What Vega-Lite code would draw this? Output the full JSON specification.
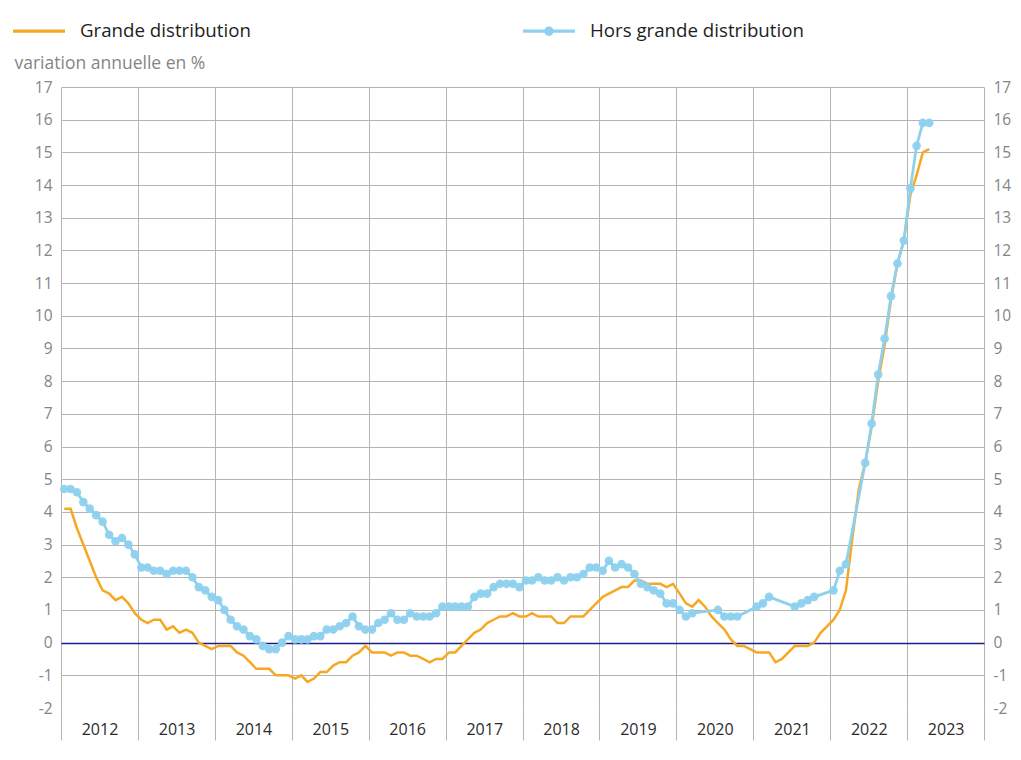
{
  "$schema": "https://vega.github.io/schema/vega-lite/v6.json",
  "width": 923,
  "height": 621,
  "autosize": "none",
  "padding": {"left": 61, "top": 87, "right": 37, "bottom": 52},
  "config": {
    "font": "Open Sans",
    "view": {"stroke": null},
    "axis": {"gridColor": "#b4b4b4", "gridWidth": 1, "tickColor": "#b4b4b4"}
  },
  "data": {
    "values": [
      {"mois": "2012-01-01", "grande": 4.1, "hors": 4.7},
      {"mois": "2012-02-01", "grande": 4.1, "hors": 4.7},
      {"mois": "2012-03-01", "grande": 3.5, "hors": 4.6},
      {"mois": "2012-04-01", "grande": 3.0, "hors": 4.3},
      {"mois": "2012-05-01", "grande": 2.5, "hors": 4.1},
      {"mois": "2012-06-01", "grande": 2.0, "hors": 3.9},
      {"mois": "2012-07-01", "grande": 1.6, "hors": 3.7},
      {"mois": "2012-08-01", "grande": 1.5, "hors": 3.3},
      {"mois": "2012-09-01", "grande": 1.3, "hors": 3.1},
      {"mois": "2012-10-01", "grande": 1.4, "hors": 3.2},
      {"mois": "2012-11-01", "grande": 1.2, "hors": 3.0},
      {"mois": "2012-12-01", "grande": 0.9, "hors": 2.7},
      {"mois": "2013-01-01", "grande": 0.7, "hors": 2.3},
      {"mois": "2013-02-01", "grande": 0.6, "hors": 2.3},
      {"mois": "2013-03-01", "grande": 0.7, "hors": 2.2},
      {"mois": "2013-04-01", "grande": 0.7, "hors": 2.2},
      {"mois": "2013-05-01", "grande": 0.4, "hors": 2.1},
      {"mois": "2013-06-01", "grande": 0.5, "hors": 2.2},
      {"mois": "2013-07-01", "grande": 0.3, "hors": 2.2},
      {"mois": "2013-08-01", "grande": 0.4, "hors": 2.2},
      {"mois": "2013-09-01", "grande": 0.3, "hors": 2.0},
      {"mois": "2013-10-01", "grande": 0.0, "hors": 1.7},
      {"mois": "2013-11-01", "grande": -0.1, "hors": 1.6},
      {"mois": "2013-12-01", "grande": -0.2, "hors": 1.4},
      {"mois": "2014-01-01", "grande": -0.1, "hors": 1.3},
      {"mois": "2014-02-01", "grande": -0.1, "hors": 1.0},
      {"mois": "2014-03-01", "grande": -0.1, "hors": 0.7},
      {"mois": "2014-04-01", "grande": -0.3, "hors": 0.5},
      {"mois": "2014-05-01", "grande": -0.4, "hors": 0.4},
      {"mois": "2014-06-01", "grande": -0.6, "hors": 0.2},
      {"mois": "2014-07-01", "grande": -0.8, "hors": 0.1},
      {"mois": "2014-08-01", "grande": -0.8, "hors": -0.1},
      {"mois": "2014-09-01", "grande": -0.8, "hors": -0.2},
      {"mois": "2014-10-01", "grande": -1.0, "hors": -0.2},
      {"mois": "2014-11-01", "grande": -1.0, "hors": 0.0},
      {"mois": "2014-12-01", "grande": -1.0, "hors": 0.2},
      {"mois": "2015-01-01", "grande": -1.1, "hors": 0.1},
      {"mois": "2015-02-01", "grande": -1.0, "hors": 0.1},
      {"mois": "2015-03-01", "grande": -1.2, "hors": 0.1},
      {"mois": "2015-04-01", "grande": -1.1, "hors": 0.2},
      {"mois": "2015-05-01", "grande": -0.9, "hors": 0.2},
      {"mois": "2015-06-01", "grande": -0.9, "hors": 0.4},
      {"mois": "2015-07-01", "grande": -0.7, "hors": 0.4},
      {"mois": "2015-08-01", "grande": -0.6, "hors": 0.5},
      {"mois": "2015-09-01", "grande": -0.6, "hors": 0.6},
      {"mois": "2015-10-01", "grande": -0.4, "hors": 0.8},
      {"mois": "2015-11-01", "grande": -0.3, "hors": 0.5},
      {"mois": "2015-12-01", "grande": -0.1, "hors": 0.4},
      {"mois": "2016-01-01", "grande": -0.3, "hors": 0.4},
      {"mois": "2016-02-01", "grande": -0.3, "hors": 0.6},
      {"mois": "2016-03-01", "grande": -0.3, "hors": 0.7},
      {"mois": "2016-04-01", "grande": -0.4, "hors": 0.9},
      {"mois": "2016-05-01", "grande": -0.3, "hors": 0.7},
      {"mois": "2016-06-01", "grande": -0.3, "hors": 0.7},
      {"mois": "2016-07-01", "grande": -0.4, "hors": 0.9},
      {"mois": "2016-08-01", "grande": -0.4, "hors": 0.8},
      {"mois": "2016-09-01", "grande": -0.5, "hors": 0.8},
      {"mois": "2016-10-01", "grande": -0.6, "hors": 0.8},
      {"mois": "2016-11-01", "grande": -0.5, "hors": 0.9},
      {"mois": "2016-12-01", "grande": -0.5, "hors": 1.1},
      {"mois": "2017-01-01", "grande": -0.3, "hors": 1.1},
      {"mois": "2017-02-01", "grande": -0.3, "hors": 1.1},
      {"mois": "2017-03-01", "grande": -0.1, "hors": 1.1},
      {"mois": "2017-04-01", "grande": 0.1, "hors": 1.1},
      {"mois": "2017-05-01", "grande": 0.3, "hors": 1.4},
      {"mois": "2017-06-01", "grande": 0.4, "hors": 1.5},
      {"mois": "2017-07-01", "grande": 0.6, "hors": 1.5},
      {"mois": "2017-08-01", "grande": 0.7, "hors": 1.7},
      {"mois": "2017-09-01", "grande": 0.8, "hors": 1.8},
      {"mois": "2017-10-01", "grande": 0.8, "hors": 1.8},
      {"mois": "2017-11-01", "grande": 0.9, "hors": 1.8},
      {"mois": "2017-12-01", "grande": 0.8, "hors": 1.7},
      {"mois": "2018-01-01", "grande": 0.8, "hors": 1.9},
      {"mois": "2018-02-01", "grande": 0.9, "hors": 1.9},
      {"mois": "2018-03-01", "grande": 0.8, "hors": 2.0},
      {"mois": "2018-04-01", "grande": 0.8, "hors": 1.9},
      {"mois": "2018-05-01", "grande": 0.8, "hors": 1.9},
      {"mois": "2018-06-01", "grande": 0.6, "hors": 2.0},
      {"mois": "2018-07-01", "grande": 0.6, "hors": 1.9},
      {"mois": "2018-08-01", "grande": 0.8, "hors": 2.0},
      {"mois": "2018-09-01", "grande": 0.8, "hors": 2.0},
      {"mois": "2018-10-01", "grande": 0.8, "hors": 2.1},
      {"mois": "2018-11-01", "grande": 1.0, "hors": 2.3},
      {"mois": "2018-12-01", "grande": 1.2, "hors": 2.3},
      {"mois": "2019-01-01", "grande": 1.4, "hors": 2.2},
      {"mois": "2019-02-01", "grande": 1.5, "hors": 2.5},
      {"mois": "2019-03-01", "grande": 1.6, "hors": 2.3},
      {"mois": "2019-04-01", "grande": 1.7, "hors": 2.4},
      {"mois": "2019-05-01", "grande": 1.7, "hors": 2.3},
      {"mois": "2019-06-01", "grande": 1.9, "hors": 2.1},
      {"mois": "2019-07-01", "grande": 1.9, "hors": 1.8},
      {"mois": "2019-08-01", "grande": 1.8, "hors": 1.7},
      {"mois": "2019-09-01", "grande": 1.8, "hors": 1.6},
      {"mois": "2019-10-01", "grande": 1.8, "hors": 1.5},
      {"mois": "2019-11-01", "grande": 1.7, "hors": 1.2},
      {"mois": "2019-12-01", "grande": 1.8, "hors": 1.2},
      {"mois": "2020-01-01", "grande": 1.5, "hors": 1.0},
      {"mois": "2020-02-01", "grande": 1.2, "hors": 0.8},
      {"mois": "2020-03-01", "grande": 1.1, "hors": 0.9},
      {"mois": "2020-04-01", "grande": 1.3, "hors": null},
      {"mois": "2020-05-01", "grande": 1.1, "hors": null},
      {"mois": "2020-06-01", "grande": 0.8, "hors": null},
      {"mois": "2020-07-01", "grande": 0.6, "hors": 1.0},
      {"mois": "2020-08-01", "grande": 0.4, "hors": 0.8},
      {"mois": "2020-09-01", "grande": 0.1, "hors": 0.8},
      {"mois": "2020-10-01", "grande": -0.1, "hors": 0.8},
      {"mois": "2020-11-01", "grande": -0.1, "hors": null},
      {"mois": "2020-12-01", "grande": -0.2, "hors": null},
      {"mois": "2021-01-01", "grande": -0.3, "hors": 1.1},
      {"mois": "2021-02-01", "grande": -0.3, "hors": 1.2},
      {"mois": "2021-03-01", "grande": -0.3, "hors": 1.4},
      {"mois": "2021-04-01", "grande": -0.6, "hors": null},
      {"mois": "2021-05-01", "grande": -0.5, "hors": null},
      {"mois": "2021-06-01", "grande": -0.3, "hors": null},
      {"mois": "2021-07-01", "grande": -0.1, "hors": 1.1},
      {"mois": "2021-08-01", "grande": -0.1, "hors": 1.2},
      {"mois": "2021-09-01", "grande": -0.1, "hors": 1.3},
      {"mois": "2021-10-01", "grande": 0.0, "hors": 1.4},
      {"mois": "2021-11-01", "grande": 0.3, "hors": null},
      {"mois": "2021-12-01", "grande": 0.5, "hors": null},
      {"mois": "2022-01-01", "grande": 0.7, "hors": 1.6},
      {"mois": "2022-02-01", "grande": 1.0, "hors": 2.2},
      {"mois": "2022-03-01", "grande": 1.6, "hors": 2.4},
      {"mois": "2022-04-01", "grande": 3.2, "hors": null},
      {"mois": "2022-05-01", "grande": 4.7, "hors": null},
      {"mois": "2022-06-01", "grande": 5.5, "hors": 5.5},
      {"mois": "2022-07-01", "grande": 6.6, "hors": 6.7},
      {"mois": "2022-08-01", "grande": 8.0, "hors": 8.2},
      {"mois": "2022-09-01", "grande": 9.1, "hors": 9.3},
      {"mois": "2022-10-01", "grande": 10.5, "hors": 10.6},
      {"mois": "2022-11-01", "grande": 11.6, "hors": 11.6},
      {"mois": "2022-12-01", "grande": 12.3, "hors": 12.3},
      {"mois": "2023-01-01", "grande": 13.7, "hors": 13.9},
      {"mois": "2023-02-01", "grande": 14.3, "hors": 15.2},
      {"mois": "2023-03-01", "grande": 15.0, "hors": 15.9},
      {"mois": "2023-04-01", "grande": 15.1, "hors": 15.9}
    ]
  },
  "encoding": {
    "x": {
      "field": "mois",
      "type": "temporal",
      "timeUnit": "utcyearmonth",
      "bandPosition": 0.5,
      "scale": {
        "domain": [
          {"year": 2012, "month": 1, "date": 1, "utc": true},
          {"year": 2024, "month": 1, "date": 1, "utc": true}
        ]
      },
      "axis": {
        "title": null,
        "values": [
          {"year": 2012, "month": 1, "date": 1, "utc": true},
          {"year": 2013, "month": 1, "date": 1, "utc": true},
          {"year": 2014, "month": 1, "date": 1, "utc": true},
          {"year": 2015, "month": 1, "date": 1, "utc": true},
          {"year": 2016, "month": 1, "date": 1, "utc": true},
          {"year": 2017, "month": 1, "date": 1, "utc": true},
          {"year": 2018, "month": 1, "date": 1, "utc": true},
          {"year": 2019, "month": 1, "date": 1, "utc": true},
          {"year": 2020, "month": 1, "date": 1, "utc": true},
          {"year": 2021, "month": 1, "date": 1, "utc": true},
          {"year": 2022, "month": 1, "date": 1, "utc": true},
          {"year": 2023, "month": 1, "date": 1, "utc": true},
          {"year": 2024, "month": 1, "date": 1, "utc": true}
        ],
        "labelExpr": "utcFormat(datum.value, '%Y') == '2024' ? '' : utcFormat(datum.value, '%Y')",
        "grid": true,
        "domain": false,
        "ticks": true,
        "tickSize": 32,
        "labelOffset": 38.5,
        "labelPadding": -11,
        "labelBaseline": "middle",
        "labelFontSize": 16,
        "labelColor": "#2b2b2b",
        "labelOverlap": false,
        "labelBound": false,
        "labelFlush": false
      }
    }
  },
  "layer": [
    {
      "mark": {"type": "line", "strokeWidth": 2.5, "interpolate": "linear"},
      "encoding": {
        "y": {
          "field": "grande",
          "type": "quantitative",
          "scale": {"domain": [-2, 17], "nice": false, "zero": false},
          "axis": {
            "orient": "left",
            "values": [-2, -1, 0, 1, 2, 3, 4, 5, 6, 7, 8, 9, 10, 11, 12, 13, 14, 15, 16, 17],
            "labelExpr": "'' + datum.value",
            "grid": true,
            "gridOpacity": {"condition": {"test": "datum.value == -2", "value": 0}, "value": 1},
            "gridColor": {"condition": {"test": "datum.value == 0", "value": "#1c1c8a"}, "value": "#b4b4b4"},
            "gridWidth": {"condition": {"test": "datum.value == 0", "value": 1.6}, "value": 1},
            "domain": false,
            "ticks": false,
            "labelPadding": 9,
            "labelFontSize": 15.5,
            "labelColor": "#858585",
            "title": "variation annuelle en %",
            "titleAngle": 0,
            "titleAlign": "left",
            "titleBaseline": "middle",
            "titleX": -47,
            "titleY": -24,
            "titleFontSize": 17.5,
            "titleFontWeight": "normal",
            "titleColor": "#858585"
          }
        },
        "color": {
          "datum": "Grande distribution",
          "scale": {
            "domain": ["Grande distribution", "Hors grande distribution"],
            "range": ["#f7a823", "#8ed1ee"]
          },
          "legend": {
            "title": null,
            "orient": "none",
            "legendX": -48,
            "legendY": -82,
            "direction": "horizontal",
            "columnPadding": 272,
            "padding": 0,
            "symbolSize": 2704,
            "labelOffset": 15,
            "labelFontSize": 18.7,
            "labelColor": "#1e1e1e",
            "labelLimit": 400,
            "encode": {
              "symbols": {
                "update": {
                  "shape": {"signal": "datum.index == 0 ? 'M-1,-0.06L1,-0.06L1,0.06L-1,0.06Z' : 'M-1,-0.06L1,-0.06L1,0.06L-1,0.06Z M-0.18,0A0.18,0.18,0,1,1,0.18,0A0.18,0.18,0,1,1,-0.18,0Z'"},
                  "fill": {"signal": "datum.index == 0 ? '#f7a823' : '#8ed1ee'"},
                  "fillOpacity": {"value": 1},
                  "stroke": {"value": "transparent"},
                  "strokeWidth": {"value": 0}
                }
              }
            }
          }
        }
      }
    },
    {
      "mark": {
        "type": "line",
        "strokeWidth": 2.8,
        "invalid": "filter",
        "point": {"filled": true, "size": 75, "opacity": 0.95}
      },
      "encoding": {
        "y": {
          "field": "hors",
          "type": "quantitative",
          "axis": {
            "orient": "right",
            "values": [-2, -1, 0, 1, 2, 3, 4, 5, 6, 7, 8, 9, 10, 11, 12, 13, 14, 15, 16, 17],
            "labelExpr": "'' + datum.value",
            "grid": false,
            "domain": false,
            "ticks": false,
            "labelPadding": 9,
            "labelFontSize": 15.5,
            "labelColor": "#858585",
            "title": null
          }
        },
        "color": {"datum": "Hors grande distribution"}
      }
    }
  ],
  "resolve": {"scale": {"y": "shared"}, "axis": {"y": "independent"}}
}
